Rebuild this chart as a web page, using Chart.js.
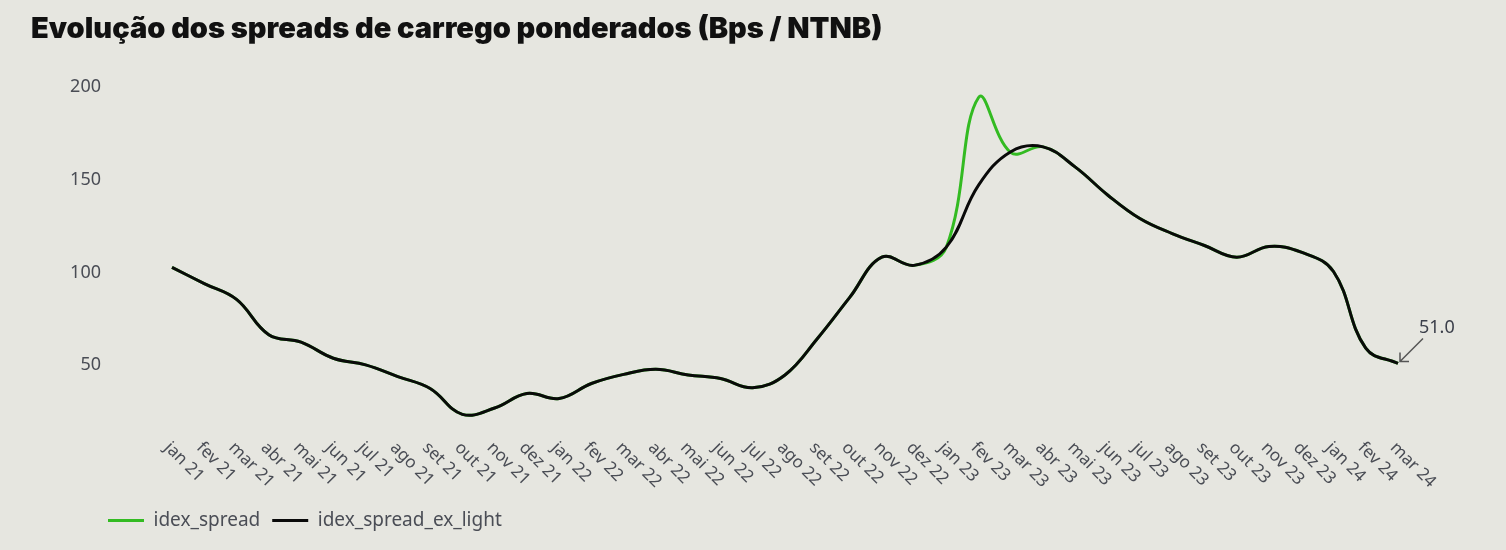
<!DOCTYPE html>
<html>
<head>
<meta charset="utf-8">
<script src="https://cdn.jsdelivr.net/npm/chart.js@4.4.1/dist/chart.umd.min.js"></script>
<style>
html, body { margin: 0; padding: 0; background: #e6e6e0; }
#wrap { width: 1506px; height: 550px; }
</style>
</head>
<body>
<div id="wrap"><canvas id="myChart"></canvas></div>
<script>
const months = ["jan 21","fev 21","mar 21","abr 21","mai 21","jun 21","jul 21","ago 21","set 21","out 21","nov 21","dez 21",
  "jan 22","fev 22","mar 22","abr 22","mai 22","jun 22","jul 22","ago 22","set 22","out 22","nov 22","dez 22",
  "jan 23","fev 23","mar 23","abr 23","mai 23","jun 23","jul 23","ago 23","set 23","out 23","nov 23","dez 23",
  "jan 24","fev 24","mar 24"];

const idexSpread = [102.7, 94, 85.5, 66.5, 62.5, 53.8, 50.2, 43.9, 37.5, 23.6, 27, 34.8,
  32.1, 40.2, 45.1, 47.8, 44.8, 42.9, 37.9, 44.8, 64.3, 86.4, 108.2, 103.8,
  113.6, 194.2, 164.5, 167.6, 156.7, 141.7, 129, 120.9, 114.5, 108.2, 114, 110.9,
  100.5, 59.2, 51.0];

const idexSpreadExLight = [102.7, 94, 85.5, 66.5, 62.5, 53.8, 50.2, 43.9, 37.5, 23.6, 27, 34.8,
  32.1, 40.2, 45.1, 47.8, 44.8, 42.9, 37.9, 44.8, 64.3, 86.4, 108.2, 103.8,
  113.6, 147, 165, 167.6, 156.7, 141.7, 129, 120.9, 114.5, 108.2, 114, 110.9,
  100.5, 59.2, 51.0];

const yTicks = [50, 100, 150, 200];

const labelColor = '#4a4d55';

// x labels go down-right from the tick, chart.js can't rotate that way
const xLabels = {
  id: 'xLabels',
  afterDraw(chart) {
    const ctx = chart.ctx;
    const xs = chart.scales.x;
    const bottom = chart.chartArea.bottom;
    ctx.save();
    ctx.font = '17px "Noto Sans"';
    ctx.fillStyle = labelColor;
    ctx.textAlign = 'left';
    ctx.textBaseline = 'middle';
    months.forEach((m, i) => {
      const x = xs.getPixelForValue(i);
      ctx.save();
      ctx.translate(x - 5, bottom + 24);
      ctx.rotate(Math.PI / 4);
      ctx.fillText(m, 0, 0);
      ctx.restore();
    });
    ctx.restore();
  }
};

// label + arrow on the last value
const lastValue = {
  id: 'lastValue',
  afterDatasetsDraw(chart) {
    const ctx = chart.ctx;
    const n = idexSpreadExLight.length - 1;
    const v = idexSpreadExLight[n];
    const px = chart.scales.x.getPixelForValue(n);
    const py = chart.scales.y.getPixelForValue(v);
    const tx = px + 2, ty = py - 2;
    const sx = px + 25, sy = py - 25;
    ctx.save();
    ctx.strokeStyle = '#555';
    ctx.lineWidth = 1.5;
    ctx.beginPath();
    ctx.moveTo(sx, sy);
    ctx.lineTo(tx, ty);
    ctx.moveTo(tx + 9, ty);
    ctx.lineTo(tx, ty);
    ctx.lineTo(tx, ty - 9);
    ctx.stroke();
    ctx.font = '18px "Noto Sans"';
    ctx.fillStyle = '#3b3f4a';
    ctx.textAlign = 'left';
    ctx.textBaseline = 'middle';
    ctx.fillText(v.toFixed(1), px + 21, py - 36);
    ctx.restore();
  }
};

const legendShift = {
  id: 'legendShift',
  afterLayout(chart) {
    chart.legend.left = 96;
  }
};

new Chart("myChart", {
  type: 'line',
  data: {
    labels: months,
    datasets: [{
      label: 'idex_spread',
      data: idexSpread,
      borderColor: '#33bb22',
      backgroundColor: '#33bb22',
      borderWidth: 3,
      pointRadius: 0,
      tension: 0.4,
      order: 1
    }, {
      label: 'idex_spread_ex_light',
      data: idexSpreadExLight,
      borderColor: '#0a0a0a',
      backgroundColor: '#0a0a0a',
      borderWidth: 3,
      pointRadius: 0,
      tension: 0.4,
      order: 0
    }]
  },
  options: {
    responsive: true,
    maintainAspectRatio: false,
    animation: false,
    layout: { padding: { left: 31, right: 108, top: 0, bottom: 10 } },
    plugins: {
      title: {
        display: true,
        text: 'Evolução dos spreads de carrego ponderados (Bps / NTNB)',
        align: 'start',
        color: '#111',
        font: { family: 'Inter', weight: 900, size: 29 },
        padding: { top: 12.2, bottom: 39.7 }
      },
      legend: {
        position: 'bottom',
        align: 'start',
        labels: {
          usePointStyle: true,
          pointStyle: 'line',
          pointStyleWidth: 36,
          padding: 12,
          color: labelColor,
          font: { family: 'Noto Sans', size: 19 },
          sort: (a, b) => a.datasetIndex - b.datasetIndex
        }
      },
      tooltip: { enabled: false }
    },
    scales: {
      x: {
        grid: { display: false },
        border: { display: false },
        ticks: { display: false },
        afterFit(scale) { scale.height = 78; }
      },
      y: {
        min: 20,
        max: 200,
        grid: { display: false, drawTicks: false },
        border: { display: false },
        afterBuildTicks(scale) { scale.ticks = yTicks.map(v => ({ value: v })); },
        afterFit(scale) { scale.width = 141; },
        ticks: {
          padding: 71,
          color: labelColor,
          font: { family: 'Noto Sans', size: 18 }
        }
      }
    }
  },
  plugins: [xLabels, lastValue, legendShift]
});
</script>
</body>
</html>
